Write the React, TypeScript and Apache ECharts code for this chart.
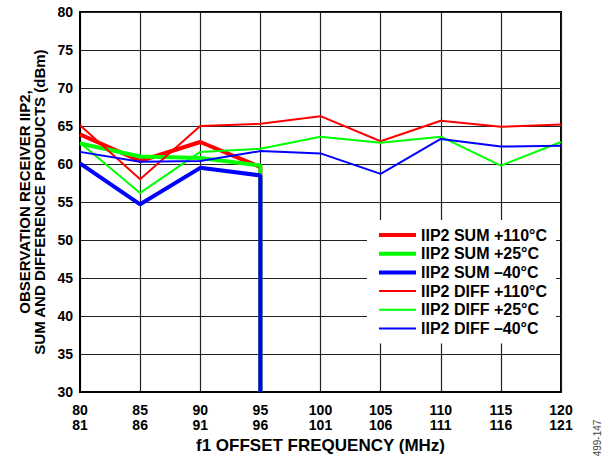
import React, { useEffect, useRef } from "react";
import * as echarts from "echarts";

const xTickTop = [80, 85, 90, 95, 100, 105, 110, 115, 120];
const xTickBottom = [81, 86, 91, 96, 101, 106, 111, 116, 121];
const yTicks = [30, 35, 40, 45, 50, 55, 60, 65, 70, 75, 80];

const diffX = [80, 85, 90, 95, 100, 105, 110, 115, 120];
const sumX = [80, 85, 90, 95, 95];

const sumHot = [63.9, 60.4, 62.9, 59.6, 30];
const sumRoom = [62.7, 61.0, 60.8, 59.8, 30];
const sumCold = [60.1, 54.7, 59.5, 58.5, 30];
const diffHot = [65.1, 58.0, 65.0, 65.3, 66.3, 63.0, 65.7, 64.9, 65.2];
const diffRoom = [62.8, 56.2, 61.6, 62.0, 63.6, 62.8, 63.6, 59.8, 62.9];
const diffCold = [61.6, 60.3, 60.4, 61.7, 61.4, 58.7, 63.3, 62.3, 62.4];

const names = [
  "IIP2 SUM +110°C",
  "IIP2 SUM +25°C",
  "IIP2 SUM –40°C",
  "IIP2 DIFF +110°C",
  "IIP2 DIFF +25°C",
  "IIP2 DIFF –40°C",
];
const colors = ["#ff0000", "#00ff00", "#0000ff", "#ff0000", "#00ff00", "#0000ff"];
const widths = [4, 4, 4, 2, 2, 2];

const FONT = "'Liberation Sans', Arial, Helvetica, sans-serif";

export default function App() {
  const ref = useRef<HTMLDivElement>(null);
  useEffect(() => {
    if (!ref.current) return;
    const chart = echarts.init(ref.current, undefined, { renderer: "svg" });
    const seriesData = [
      sumX.map((x, i) => [x, sumHot[i]]),
      sumX.map((x, i) => [x, sumRoom[i]]),
      sumX.map((x, i) => [x, sumCold[i]]),
      diffX.map((x, i) => [x, diffHot[i]]),
      diffX.map((x, i) => [x, diffRoom[i]]),
      diffX.map((x, i) => [x, diffCold[i]]),
    ];
    chart.setOption({
      animation: false,
      backgroundColor: "#fff",
      grid: {
        left: 80,
        right: 50,
        top: 12,
        bottom: 66,
        show: true,
        borderColor: "#000",
        borderWidth: 2,
        backgroundColor: "transparent",
      },
      xAxis: {
        type: "value",
        min: xTickTop[0],
        max: xTickTop[xTickTop.length - 1],
        interval: 5,
        name: "f1 OFFSET FREQUENCY (MHz)",
        nameLocation: "middle",
        nameGap: 44,
        nameTextStyle: { fontFamily: FONT, fontWeight: "bold", fontSize: 17, color: "#000" },
        axisLine: { show: true, lineStyle: { color: "#000", width: 2 } },
        axisTick: { show: false },
        splitLine: { show: true, lineStyle: { color: "#222", width: 1.2 } },
        axisLabel: {
          margin: 10,
          fontFamily: FONT,
          fontWeight: "bold",
          fontSize: 14,
          lineHeight: 15,
          color: "#000",
          formatter: (v: number) => {
            const i = xTickTop.indexOf(v);
            return i >= 0 ? `${xTickTop[i]}\n${xTickBottom[i]}` : "";
          },
        },
      },
      yAxis: {
        type: "value",
        min: yTicks[0],
        max: yTicks[yTicks.length - 1],
        interval: 5,
        name: "OBSERVATION RECEIVER IIP2,\nSUM AND DIFFERENCE PRODUCTS (dBm)",
        nameLocation: "middle",
        nameRotate: 90,
        nameGap: 27,
        nameTextStyle: {
          fontFamily: FONT,
          fontWeight: "bold",
          fontSize: 15,
          lineHeight: 15,
          color: "#000",
          align: "center",
        },
        axisLine: { show: true, lineStyle: { color: "#000", width: 2 } },
        axisTick: { show: false },
        splitLine: { show: true, lineStyle: { color: "#222", width: 1.2 } },
        axisLabel: {
          margin: 7,
          fontFamily: FONT,
          fontWeight: "bold",
          fontSize: 14,
          color: "#000",
        },
      },
      legend: {
        orient: "vertical",
        left: 367,
        top: 220,
        padding: [7, 9, 7, 10],
        backgroundColor: "#fff",
        itemWidth: 37,
        itemHeight: 14,
        itemGap: 2.7,
        textStyle: {
          fontFamily: FONT,
          fontWeight: "bold",
          fontSize: 16,
          color: "#000",
        },
        data: names.map((n, i) => ({
          name: n,
          lineStyle: { color: colors[i], width: widths[i] },
          itemStyle: { opacity: 0 },
        })),
      },
      graphic: [
        {
          type: "text",
          x: 597,
          y: 438,
          rotation: Math.PI / 2,
          style: {
            text: "499-147",
            fontFamily: FONT,
            fontSize: 10,
            fill: "#444",
            align: "center",
            verticalAlign: "middle",
          },
        },
      ],
      series: names.map((n, i) => ({
        name: n,
        type: "line",
        data: seriesData[i],
        symbol: "none",
        showSymbol: false,
        lineStyle: { color: colors[i], width: widths[i] },
        itemStyle: { color: colors[i] },
        z: i < 3 ? 2 : 3,
      })),
    });
    return () => chart.dispose();
  }, []);
  return (
    <div
      ref={ref}
      style={{ position: "absolute", left: 0, top: 0, width: 611, height: 459 }}
    />
  );
}
